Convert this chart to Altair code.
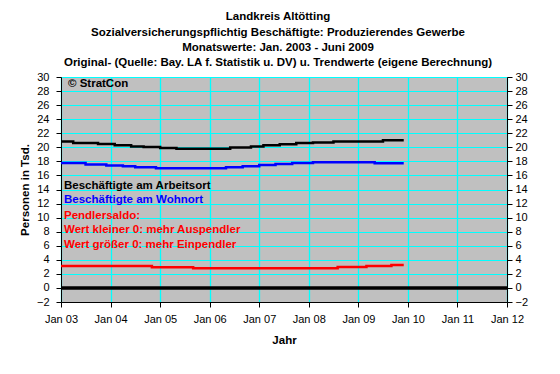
import altair as alt
import pandas as pd

FONT = "Liberation Sans, Arial, sans-serif"

# ---- data (step segments: start month, value) ----
arbeit_dates = ["2003-01-01", "2003-04-01", "2003-10-01", "2004-02-01", "2004-06-01",
                "2004-09-01", "2005-01-01", "2005-05-01", "2006-06-01", "2006-11-01",
                "2007-02-01", "2007-06-01", "2007-10-01", "2008-02-01", "2008-07-01",
                "2009-07-01", "2009-12-01"]
arbeit_vals = [20.84, 20.62, 20.47, 20.28, 20.13, 20.05, 19.91, 19.81, 19.99, 20.13,
               20.28, 20.42, 20.62, 20.70, 20.84, 20.99, 20.99]

wohn_dates = ["2003-01-01", "2003-07-01", "2003-12-01", "2004-04-01", "2004-07-01",
              "2004-12-01", "2006-05-01", "2006-09-01", "2007-01-01", "2007-05-01",
              "2007-09-01", "2008-02-01", "2009-05-01", "2009-12-01"]
wohn_vals = [17.77, 17.57, 17.43, 17.29, 17.15, 17.01, 17.15, 17.29, 17.49, 17.63,
             17.77, 17.86, 17.72, 17.72]

saldo_dates = ["2003-01-01", "2004-11-01", "2005-09-01", "2008-08-01", "2009-03-01",
               "2009-09-01", "2009-12-01"]
saldo_vals = [3.13, 2.93, 2.79, 2.99, 3.13, 3.27, 3.27]

series_names = ["Arbeitsort", "Wohnort", "Pendlersaldo"]
series_colors = ["#000000", "#0000FF", "#FF0000"]

year_ticks = list(range(2003, 2013))
y_ticks = list(range(-2, 31, 2))

note_texts = ["Beschäftigte am Arbeitsort", "Beschäftigte am Wohnort", "Pendlersaldo:",
              "Wert kleiner 0: mehr Auspendler", "Wert größer 0: mehr Einpendler"]
note_series = ["Arbeitsort", "Wohnort", "Pendlersaldo", "Pendlersaldo", "Pendlersaldo"]
note_y = [14.55, 12.45, 10.3, 8.2, 6.05]
note_date = "2003-01-01"

copyright_text = "© StratCon"
copyright_y = 29.05

title_lines = ["Landkreis Altötting",
               "Sozialversicherungspflichtig Beschäftigte: Produzierendes Gewerbe",
               "Monatswerte: Jan. 2003 - Juni 2009",
               "Original- (Quelle: Bay. LA f. Statistik u. DV) u. Trendwerte (eigene Berechnung)"]

# ---- tables ----
rows = []
for name, ds, vs in zip(series_names, [arbeit_dates, wohn_dates, saldo_dates],
                        [arbeit_vals, wohn_vals, saldo_vals]):
    for d, v in zip(ds, vs):
        rows.append({"date": d, "value": v, "series": name})
df = pd.DataFrame(rows)

notes = pd.DataFrame({"date": [note_date] * len(note_texts), "value": note_y,
                      "text": note_texts, "series": note_series})
copy_df = pd.DataFrame({"date": [note_date], "value": [copyright_y], "text": [copyright_text]})
zero_df = pd.DataFrame({"date": ["2003-01-01", "2012-01-01"], "value": [0, 0]})

x_enc = alt.X("date:T", title="Jahr",
              scale=alt.Scale(type="utc",
                              domain=[alt.DateTime(year=2003, month=1, date=1, utc=True),
                                      alt.DateTime(year=2012, month=1, date=1, utc=True)]),
              axis=alt.Axis(values=[alt.DateTime(year=y, month=1, date=1, utc=True) for y in year_ticks],
                            labelExpr="utcFormat(datum.value, '%b %y')",
                            grid=True, gridColor="#00FFFF",
                            gridWidth=1.3, gridOpacity=1, tickSize=5, labelPadding=6,
                            titlePadding=10, labelFontSize=11, titleFontSize=11.5,
                            titleFontWeight="bold", labelColor="#000000", titleColor="#000000",
                            domainColor="#000000", tickColor="#000000", labelFont=FONT,
                            titleFont=FONT, labelOverlap=False, labelFlush=False))

yscale = alt.Scale(domain=[-2, 30], nice=False, zero=False)
color_scale = alt.Scale(domain=series_names, range=series_colors)

y_left = alt.Y("value:Q", title="Personen in Tsd.", scale=yscale,
               axis=alt.Axis(values=y_ticks, grid=True, gridColor="#00FFFF", gridWidth=1,
                             gridOpacity=1, tickSize=5, labelPadding=7, titlePadding=6,
                             labelFontSize=11, titleFontSize=11.5, titleFontWeight="bold",
                             labelColor="#000000", titleColor="#000000", domainColor="#000000",
                             tickColor="#000000", labelFont=FONT, titleFont=FONT))

lines = alt.Chart(df).mark_line(interpolate="step-after", strokeWidth=2.5).encode(
    x=x_enc, y=y_left,
    color=alt.Color("series:N", scale=color_scale, legend=None),
    detail="series:N")

zero = alt.Chart(zero_df).mark_line(color="#000000", strokeWidth=3.5).encode(
    x=x_enc, y=y_left)

note_layer = alt.Chart(notes).mark_text(align="left", baseline="middle", dx=3, font=FONT,
                                        fontSize=11.5, fontWeight="bold").encode(
    x=x_enc, y=y_left, text="text:N",
    color=alt.Color("series:N", scale=color_scale, legend=None))

copy_layer = alt.Chart(copy_df).mark_text(align="left", baseline="middle", dx=7, font=FONT,
                                          fontSize=11.5, fontWeight="bold", color="#000000").encode(
    x=x_enc, y=y_left, text="text:N")

left = alt.layer(zero, lines, note_layer, copy_layer)

right = alt.Chart(df).mark_line(opacity=0).encode(
    x=x_enc,
    y=alt.Y("value:Q", title=None, scale=yscale,
            axis=alt.Axis(orient="right", values=y_ticks, grid=False, tickSize=5,
                          labelPadding=3, labelFontSize=11, labelColor="#000000",
                          domainColor="#000000", tickColor="#000000", labelFont=FONT)),
    detail="series:N")

chart = alt.layer(left, right).resolve_scale(y="independent").properties(
    width=446, height=225,
    autosize=alt.AutoSizeParams(type="none"),
    padding={"left": 53, "top": 69, "right": 45, "bottom": 64},
    background="#FFFFFF",
    title=alt.TitleParams(text=title_lines, fontSize=11.5, fontWeight="bold", font=FONT,
                          lineHeight=15.2, anchor="middle", dx=-6, offset=2.5, color="#000000"),
).configure_view(fill="#C0C0C0", stroke="#C0C0C0")

chart.save("out.html", embed_options={"renderer": "svg", "actions": False})
